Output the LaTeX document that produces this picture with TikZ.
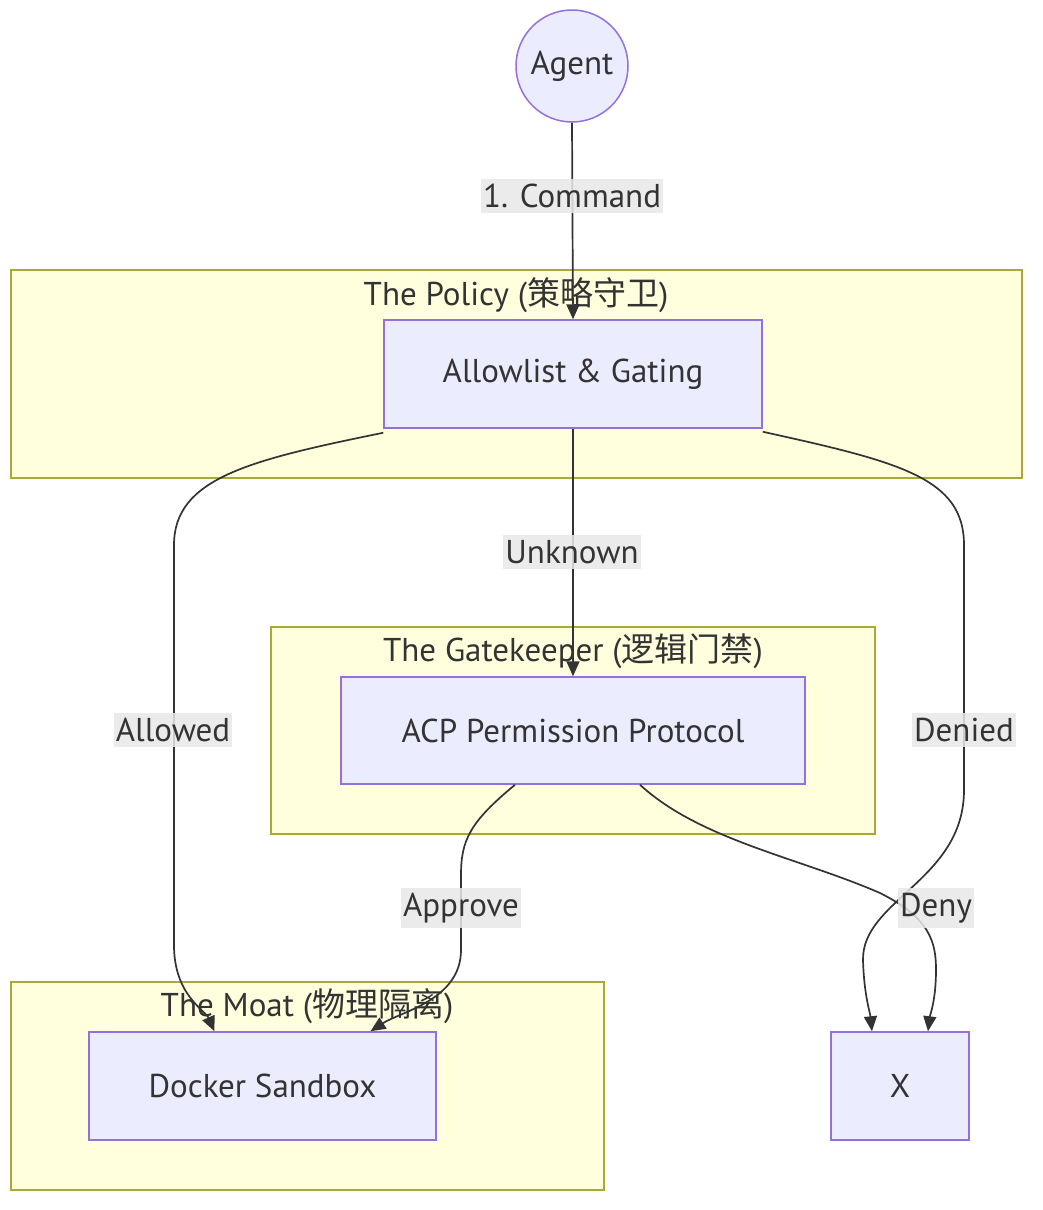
\documentclass[tikz,border=0pt]{standalone}
\usepackage{fontspec}
\setmainfont{PT Sans}
\newfontfamily\cjk{Noto Sans CJK SC}
\usetikzlibrary{arrows.meta}
\definecolor{clfill}{HTML}{FFFFDE}
\definecolor{clstroke}{HTML}{AAAA33}
\definecolor{ndfill}{HTML}{ECECFF}
\definecolor{ndstroke}{HTML}{9370DB}
\definecolor{txt}{HTML}{333333}
\definecolor{lblbg}{HTML}{E8E8E8}
\tikzset{
  cluster/.style={draw=clstroke, fill=clfill, line width=1.5pt},
  clustertitle/.style={text=txt, font=\fontsize{33}{36}\selectfont, inner sep=0pt},
  box/.style={draw=ndstroke, fill=ndfill, line width=1.5pt, text=txt, font=\fontsize{33}{36}\selectfont, inner sep=0pt},
  edge/.style={draw=txt, line width=1.7pt, -{Triangle[length=15pt,width=13pt]}},
  elabel/.style={fill=lblbg, fill opacity=0.85, text opacity=1, text=txt, font=\fontsize{33}{36}\selectfont, inner xsep=2pt, inner ysep=5pt}
}
\begin{document}
\begin{tikzpicture}[x=1pt,y=-1pt]
\useasboundingbox (0,0) rectangle (1042,1210);
% clusters
\draw[cluster] (11,270) rectangle (1022,478);
\node[clustertitle] (tpol) at (516,295) {The Policy ({\cjk 策略守卫})};
\draw[cluster] (271,627) rectangle (875,834);
\node[clustertitle] (tgate) at (573,651) {The Gatekeeper ({\cjk 逻辑门禁})};
\draw[cluster] (11,982) rectangle (604,1190);
\node[clustertitle] (tmoat) at (307,1006) {The Moat ({\cjk 物理隔离})};
% nodes
\node[box, circle, minimum size=112pt] (agent) at (572,66) {Agent};
\node[box, minimum width=378pt, minimum height=108pt] (allow) at (573,374) {Allowlist \& Gating};
\node[box, minimum width=464pt, minimum height=107pt] (acp) at (573,730.5) {ACP Permission Protocol};
\node[box, minimum width=347pt, minimum height=108pt] (docker) at (262.5,1086) {Docker Sandbox};
\node[box, minimum width=138pt, minimum height=108pt] (xx) at (900,1086) {X};
% edges
\draw[edge] (agent.south) -- (allow.north);
\draw[edge] (allow.south) -- (acp.north);
\draw[edge] ([yshift=-4pt]allow.south west) .. controls (250,460) and (174,478) .. (174,545) -- (174,945) .. controls (174,995) and (205,1010) .. ([xshift=-48pt]docker.north);
\draw[edge] ([yshift=-3pt]allow.south east) .. controls (900,462) and (964,478) .. (964,545) -- (964,790) .. controls (964,880) and (862,900) .. (863,960) .. controls (864,995) and (870,1012) .. ([xshift=-28pt]xx.north);
\draw[edge] ([xshift=-58pt]acp.south) .. controls (470,822) and (461,840) .. (461,875) -- (461,950) .. controls (461,1000) and (400,1012) .. ([xshift=108pt]docker.north);
\draw[edge] ([xshift=67pt]acp.south) .. controls (700,840) and (800,858) .. (880,893) .. controls (930,918) and (936,942) .. (936,970) .. controls (936,1000) and (930,1015) .. ([xshift=28pt]xx.north);
% edge labels
\node[elabel] (lcmd) at (572,196) {1. Command};
\node[elabel] (lunk) at (572,552) {Unknown};
\node[elabel] (lallow) at (173,730) {Allowed};
\node[elabel] (ldenied) at (964,730) {Denied};
\node[elabel] (lappr) at (461,908) {Approve};
\node[elabel] (ldeny) at (936,908) {Deny};
\end{tikzpicture}
\end{document}
